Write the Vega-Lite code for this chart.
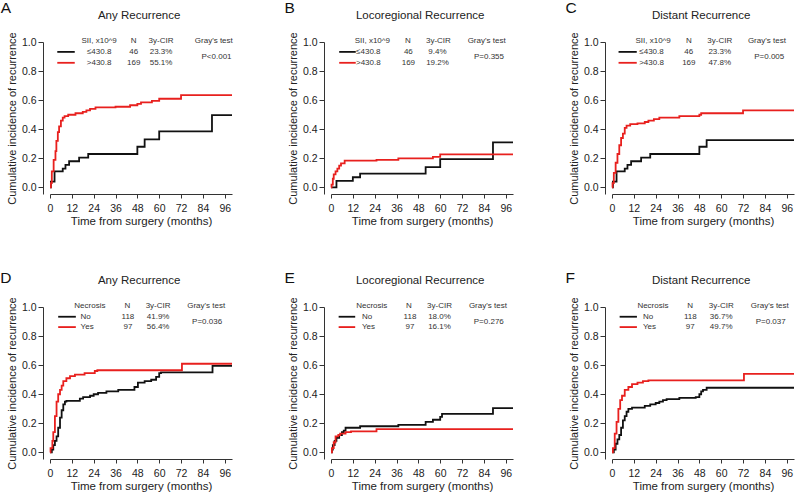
{
  "$schema": "https://vega.github.io/schema/vega-lite/v6.json",
  "padding": 0,
  "background": "white",
  "config": {
    "view": {"stroke": null},
    "font": "Liberation Sans",
    "axis": {"grid": false, "titleFontWeight": "normal", "domainColor": "#333", "tickColor": "#333", "labelColor": "#222", "titleColor": "#222",
      "labelFlush": false, "labelOverlap": false, "labelFont": "Liberation Sans", "titleFont": "Liberation Sans", "labelFontSize": 10.5},
    "axisX": {"tickSize": 4, "labelPadding": 5, "titlePadding": 2, "titleFontSize": 11.5},
    "axisY": {"offset": 7, "tickSize": 5, "labelPadding": 2, "titlePadding": 4, "titleFontSize": 11},
    "line": {"interpolate": "step-after", "strokeWidth": 1.8},
    "rule": {"strokeWidth": 1.8},
    "style": {
      "tbl": {"fontSize": 8, "color": "#333", "baseline": "middle", "font": "Liberation Sans"},
      "ttl": {"fontSize": 11.5, "color": "#222", "align": "center", "baseline": "middle", "font": "Liberation Sans"},
      "ltr": {"fontSize": 15.5, "color": "#111", "align": "left", "baseline": "top", "font": "Liberation Sans"}
    }
  },
  "data": {"values": [
    {"panel":"A","kind":"curve","grp":"≤430.8","month":0,"cir":0},
    {"panel":"A","kind":"curve","grp":"≤430.8","month":0.5,"cir":0.04},
    {"panel":"A","kind":"curve","grp":"≤430.8","month":2.5,"cir":0.11},
    {"panel":"A","kind":"curve","grp":"≤430.8","month":7,"cir":0.13},
    {"panel":"A","kind":"curve","grp":"≤430.8","month":8.5,"cir":0.155},
    {"panel":"A","kind":"curve","grp":"≤430.8","month":10.5,"cir":0.18},
    {"panel":"A","kind":"curve","grp":"≤430.8","month":16,"cir":0.205},
    {"panel":"A","kind":"curve","grp":"≤430.8","month":21,"cir":0.23},
    {"panel":"A","kind":"curve","grp":"≤430.8","month":48,"cir":0.28},
    {"panel":"A","kind":"curve","grp":"≤430.8","month":52,"cir":0.33},
    {"panel":"A","kind":"curve","grp":"≤430.8","month":60,"cir":0.385},
    {"panel":"A","kind":"curve","grp":"≤430.8","month":89,"cir":0.497},
    {"panel":"A","kind":"curve","grp":"≤430.8","month":100,"cir":0.497},
    {"panel":"A","kind":"curve","grp":">430.8","month":0,"cir":0},
    {"panel":"A","kind":"curve","grp":">430.8","month":0.5,"cir":0.03},
    {"panel":"A","kind":"curve","grp":">430.8","month":1,"cir":0.11},
    {"panel":"A","kind":"curve","grp":">430.8","month":2,"cir":0.19},
    {"panel":"A","kind":"curve","grp":">430.8","month":3,"cir":0.25},
    {"panel":"A","kind":"curve","grp":">430.8","month":3.5,"cir":0.32},
    {"panel":"A","kind":"curve","grp":">430.8","month":4.3,"cir":0.38},
    {"panel":"A","kind":"curve","grp":">430.8","month":5,"cir":0.42},
    {"panel":"A","kind":"curve","grp":">430.8","month":6,"cir":0.46},
    {"panel":"A","kind":"curve","grp":">430.8","month":7,"cir":0.48},
    {"panel":"A","kind":"curve","grp":">430.8","month":8,"cir":0.49},
    {"panel":"A","kind":"curve","grp":">430.8","month":10,"cir":0.5},
    {"panel":"A","kind":"curve","grp":">430.8","month":14,"cir":0.51},
    {"panel":"A","kind":"curve","grp":">430.8","month":18,"cir":0.52},
    {"panel":"A","kind":"curve","grp":">430.8","month":20,"cir":0.53},
    {"panel":"A","kind":"curve","grp":">430.8","month":22,"cir":0.54},
    {"panel":"A","kind":"curve","grp":">430.8","month":25,"cir":0.55},
    {"panel":"A","kind":"curve","grp":">430.8","month":36,"cir":0.555},
    {"panel":"A","kind":"curve","grp":">430.8","month":44,"cir":0.565},
    {"panel":"A","kind":"curve","grp":">430.8","month":48,"cir":0.575},
    {"panel":"A","kind":"curve","grp":">430.8","month":50,"cir":0.585},
    {"panel":"A","kind":"curve","grp":">430.8","month":56,"cir":0.595},
    {"panel":"A","kind":"curve","grp":">430.8","month":60,"cir":0.61},
    {"panel":"A","kind":"curve","grp":">430.8","month":72,"cir":0.635},
    {"panel":"A","kind":"curve","grp":">430.8","month":100,"cir":0.635},

    {"panel":"B","kind":"curve","grp":"≤430.8","month":0,"cir":0},
    {"panel":"B","kind":"curve","grp":"≤430.8","month":3,"cir":0.045},
    {"panel":"B","kind":"curve","grp":"≤430.8","month":12,"cir":0.07},
    {"panel":"B","kind":"curve","grp":"≤430.8","month":16,"cir":0.095},
    {"panel":"B","kind":"curve","grp":"≤430.8","month":52,"cir":0.14},
    {"panel":"B","kind":"curve","grp":"≤430.8","month":60,"cir":0.195},
    {"panel":"B","kind":"curve","grp":"≤430.8","month":89,"cir":0.31},
    {"panel":"B","kind":"curve","grp":"≤430.8","month":100,"cir":0.31},
    {"panel":"B","kind":"curve","grp":">430.8","month":0,"cir":0},
    {"panel":"B","kind":"curve","grp":">430.8","month":0.3,"cir":0.02},
    {"panel":"B","kind":"curve","grp":">430.8","month":1,"cir":0.06},
    {"panel":"B","kind":"curve","grp":">430.8","month":1.5,"cir":0.09},
    {"panel":"B","kind":"curve","grp":">430.8","month":2.5,"cir":0.11},
    {"panel":"B","kind":"curve","grp":">430.8","month":3.5,"cir":0.13},
    {"panel":"B","kind":"curve","grp":">430.8","month":4.5,"cir":0.15},
    {"panel":"B","kind":"curve","grp":">430.8","month":5.5,"cir":0.165},
    {"panel":"B","kind":"curve","grp":">430.8","month":7.5,"cir":0.185},
    {"panel":"B","kind":"curve","grp":">430.8","month":25,"cir":0.19},
    {"panel":"B","kind":"curve","grp":">430.8","month":37,"cir":0.2},
    {"panel":"B","kind":"curve","grp":">430.8","month":56,"cir":0.21},
    {"panel":"B","kind":"curve","grp":">430.8","month":60,"cir":0.228},
    {"panel":"B","kind":"curve","grp":">430.8","month":100,"cir":0.228},

    {"panel":"C","kind":"curve","grp":"≤430.8","month":0,"cir":0},
    {"panel":"C","kind":"curve","grp":"≤430.8","month":0.5,"cir":0.04},
    {"panel":"C","kind":"curve","grp":"≤430.8","month":2.5,"cir":0.11},
    {"panel":"C","kind":"curve","grp":"≤430.8","month":7,"cir":0.13},
    {"panel":"C","kind":"curve","grp":"≤430.8","month":8.5,"cir":0.155},
    {"panel":"C","kind":"curve","grp":"≤430.8","month":10.5,"cir":0.18},
    {"panel":"C","kind":"curve","grp":"≤430.8","month":16,"cir":0.205},
    {"panel":"C","kind":"curve","grp":"≤430.8","month":21,"cir":0.23},
    {"panel":"C","kind":"curve","grp":"≤430.8","month":48,"cir":0.28},
    {"panel":"C","kind":"curve","grp":"≤430.8","month":52,"cir":0.325},
    {"panel":"C","kind":"curve","grp":"≤430.8","month":100,"cir":0.325},
    {"panel":"C","kind":"curve","grp":">430.8","month":0,"cir":0},
    {"panel":"C","kind":"curve","grp":">430.8","month":0.3,"cir":0.03},
    {"panel":"C","kind":"curve","grp":">430.8","month":1,"cir":0.1},
    {"panel":"C","kind":"curve","grp":">430.8","month":2,"cir":0.17},
    {"panel":"C","kind":"curve","grp":">430.8","month":3,"cir":0.23},
    {"panel":"C","kind":"curve","grp":">430.8","month":4,"cir":0.29},
    {"panel":"C","kind":"curve","grp":">430.8","month":5,"cir":0.34},
    {"panel":"C","kind":"curve","grp":">430.8","month":6,"cir":0.37},
    {"panel":"C","kind":"curve","grp":">430.8","month":7,"cir":0.41},
    {"panel":"C","kind":"curve","grp":">430.8","month":8,"cir":0.425},
    {"panel":"C","kind":"curve","grp":">430.8","month":10,"cir":0.435},
    {"panel":"C","kind":"curve","grp":">430.8","month":14,"cir":0.44},
    {"panel":"C","kind":"curve","grp":">430.8","month":18,"cir":0.45},
    {"panel":"C","kind":"curve","grp":">430.8","month":20,"cir":0.46},
    {"panel":"C","kind":"curve","grp":">430.8","month":23,"cir":0.47},
    {"panel":"C","kind":"curve","grp":">430.8","month":26,"cir":0.48},
    {"panel":"C","kind":"curve","grp":">430.8","month":37,"cir":0.49},
    {"panel":"C","kind":"curve","grp":">430.8","month":48,"cir":0.5},
    {"panel":"C","kind":"curve","grp":">430.8","month":49,"cir":0.51},
    {"panel":"C","kind":"curve","grp":">430.8","month":72,"cir":0.53},
    {"panel":"C","kind":"curve","grp":">430.8","month":100,"cir":0.53},

    {"panel":"D","kind":"curve","grp":"No","month":0,"cir":0},
    {"panel":"D","kind":"curve","grp":"No","month":1,"cir":0.02},
    {"panel":"D","kind":"curve","grp":"No","month":1.8,"cir":0.05},
    {"panel":"D","kind":"curve","grp":"No","month":2.7,"cir":0.08},
    {"panel":"D","kind":"curve","grp":"No","month":3.6,"cir":0.11},
    {"panel":"D","kind":"curve","grp":"No","month":4.5,"cir":0.17},
    {"panel":"D","kind":"curve","grp":"No","month":5.5,"cir":0.24},
    {"panel":"D","kind":"curve","grp":"No","month":6.4,"cir":0.29},
    {"panel":"D","kind":"curve","grp":"No","month":7.3,"cir":0.33},
    {"panel":"D","kind":"curve","grp":"No","month":8.2,"cir":0.35},
    {"panel":"D","kind":"curve","grp":"No","month":9,"cir":0.355},
    {"panel":"D","kind":"curve","grp":"No","month":16.4,"cir":0.37},
    {"panel":"D","kind":"curve","grp":"No","month":18.2,"cir":0.38},
    {"panel":"D","kind":"curve","grp":"No","month":22,"cir":0.39},
    {"panel":"D","kind":"curve","grp":"No","month":24,"cir":0.4},
    {"panel":"D","kind":"curve","grp":"No","month":26.4,"cir":0.41},
    {"panel":"D","kind":"curve","grp":"No","month":31,"cir":0.42},
    {"panel":"D","kind":"curve","grp":"No","month":37.5,"cir":0.43},
    {"panel":"D","kind":"curve","grp":"No","month":46.4,"cir":0.45},
    {"panel":"D","kind":"curve","grp":"No","month":48.3,"cir":0.48},
    {"panel":"D","kind":"curve","grp":"No","month":52,"cir":0.49},
    {"panel":"D","kind":"curve","grp":"No","month":55.6,"cir":0.5},
    {"panel":"D","kind":"curve","grp":"No","month":58.3,"cir":0.52},
    {"panel":"D","kind":"curve","grp":"No","month":60,"cir":0.545},
    {"panel":"D","kind":"curve","grp":"No","month":61,"cir":0.55},
    {"panel":"D","kind":"curve","grp":"No","month":89.3,"cir":0.595},
    {"panel":"D","kind":"curve","grp":"No","month":100,"cir":0.595},
    {"panel":"D","kind":"curve","grp":"Yes","month":0,"cir":0},
    {"panel":"D","kind":"curve","grp":"Yes","month":0.3,"cir":0.03},
    {"panel":"D","kind":"curve","grp":"Yes","month":1.3,"cir":0.08},
    {"panel":"D","kind":"curve","grp":"Yes","month":1.8,"cir":0.14},
    {"panel":"D","kind":"curve","grp":"Yes","month":2.7,"cir":0.25},
    {"panel":"D","kind":"curve","grp":"Yes","month":3.6,"cir":0.35},
    {"panel":"D","kind":"curve","grp":"Yes","month":4.5,"cir":0.4},
    {"panel":"D","kind":"curve","grp":"Yes","month":5.5,"cir":0.43},
    {"panel":"D","kind":"curve","grp":"Yes","month":6.4,"cir":0.46},
    {"panel":"D","kind":"curve","grp":"Yes","month":7.3,"cir":0.49},
    {"panel":"D","kind":"curve","grp":"Yes","month":9,"cir":0.51},
    {"panel":"D","kind":"curve","grp":"Yes","month":11,"cir":0.525},
    {"panel":"D","kind":"curve","grp":"Yes","month":13.7,"cir":0.535},
    {"panel":"D","kind":"curve","grp":"Yes","month":19,"cir":0.545},
    {"panel":"D","kind":"curve","grp":"Yes","month":24.6,"cir":0.56},
    {"panel":"D","kind":"curve","grp":"Yes","month":26,"cir":0.565},
    {"panel":"D","kind":"curve","grp":"Yes","month":72.5,"cir":0.61},
    {"panel":"D","kind":"curve","grp":"Yes","month":100,"cir":0.61},

    {"panel":"E","kind":"curve","grp":"No","month":0,"cir":0},
    {"panel":"E","kind":"curve","grp":"No","month":0.5,"cir":0.02},
    {"panel":"E","kind":"curve","grp":"No","month":1,"cir":0.05},
    {"panel":"E","kind":"curve","grp":"No","month":2,"cir":0.08},
    {"panel":"E","kind":"curve","grp":"No","month":3,"cir":0.1},
    {"panel":"E","kind":"curve","grp":"No","month":4.5,"cir":0.12},
    {"panel":"E","kind":"curve","grp":"No","month":6,"cir":0.14},
    {"panel":"E","kind":"curve","grp":"No","month":7,"cir":0.15},
    {"panel":"E","kind":"curve","grp":"No","month":8,"cir":0.17},
    {"panel":"E","kind":"curve","grp":"No","month":16,"cir":0.18},
    {"panel":"E","kind":"curve","grp":"No","month":37,"cir":0.19},
    {"panel":"E","kind":"curve","grp":"No","month":52,"cir":0.21},
    {"panel":"E","kind":"curve","grp":"No","month":56,"cir":0.225},
    {"panel":"E","kind":"curve","grp":"No","month":60,"cir":0.245},
    {"panel":"E","kind":"curve","grp":"No","month":61,"cir":0.265},
    {"panel":"E","kind":"curve","grp":"No","month":89,"cir":0.305},
    {"panel":"E","kind":"curve","grp":"No","month":100,"cir":0.305},
    {"panel":"E","kind":"curve","grp":"Yes","month":0,"cir":0},
    {"panel":"E","kind":"curve","grp":"Yes","month":0.5,"cir":0.03},
    {"panel":"E","kind":"curve","grp":"Yes","month":1.5,"cir":0.07},
    {"panel":"E","kind":"curve","grp":"Yes","month":2.5,"cir":0.11},
    {"panel":"E","kind":"curve","grp":"Yes","month":4,"cir":0.12},
    {"panel":"E","kind":"curve","grp":"Yes","month":5,"cir":0.13},
    {"panel":"E","kind":"curve","grp":"Yes","month":8,"cir":0.14},
    {"panel":"E","kind":"curve","grp":"Yes","month":11,"cir":0.145},
    {"panel":"E","kind":"curve","grp":"Yes","month":25,"cir":0.16},
    {"panel":"E","kind":"curve","grp":"Yes","month":100,"cir":0.16},

    {"panel":"F","kind":"curve","grp":"No","month":0,"cir":0},
    {"panel":"F","kind":"curve","grp":"No","month":1,"cir":0.02},
    {"panel":"F","kind":"curve","grp":"No","month":2,"cir":0.06},
    {"panel":"F","kind":"curve","grp":"No","month":3,"cir":0.09},
    {"panel":"F","kind":"curve","grp":"No","month":4,"cir":0.12},
    {"panel":"F","kind":"curve","grp":"No","month":5,"cir":0.17},
    {"panel":"F","kind":"curve","grp":"No","month":6,"cir":0.22},
    {"panel":"F","kind":"curve","grp":"No","month":7,"cir":0.25},
    {"panel":"F","kind":"curve","grp":"No","month":8,"cir":0.28},
    {"panel":"F","kind":"curve","grp":"No","month":9,"cir":0.3},
    {"panel":"F","kind":"curve","grp":"No","month":11,"cir":0.308},
    {"panel":"F","kind":"curve","grp":"No","month":18,"cir":0.32},
    {"panel":"F","kind":"curve","grp":"No","month":21,"cir":0.33},
    {"panel":"F","kind":"curve","grp":"No","month":24,"cir":0.34},
    {"panel":"F","kind":"curve","grp":"No","month":26,"cir":0.35},
    {"panel":"F","kind":"curve","grp":"No","month":28,"cir":0.36},
    {"panel":"F","kind":"curve","grp":"No","month":30,"cir":0.367},
    {"panel":"F","kind":"curve","grp":"No","month":37,"cir":0.375},
    {"panel":"F","kind":"curve","grp":"No","month":46,"cir":0.38},
    {"panel":"F","kind":"curve","grp":"No","month":48,"cir":0.4},
    {"panel":"F","kind":"curve","grp":"No","month":49,"cir":0.42},
    {"panel":"F","kind":"curve","grp":"No","month":50,"cir":0.43},
    {"panel":"F","kind":"curve","grp":"No","month":52,"cir":0.445},
    {"panel":"F","kind":"curve","grp":"No","month":100,"cir":0.445},
    {"panel":"F","kind":"curve","grp":"Yes","month":0,"cir":0},
    {"panel":"F","kind":"curve","grp":"Yes","month":0.5,"cir":0.03},
    {"panel":"F","kind":"curve","grp":"Yes","month":1.5,"cir":0.13},
    {"panel":"F","kind":"curve","grp":"Yes","month":2.5,"cir":0.21},
    {"panel":"F","kind":"curve","grp":"Yes","month":3.5,"cir":0.3},
    {"panel":"F","kind":"curve","grp":"Yes","month":4.5,"cir":0.36},
    {"panel":"F","kind":"curve","grp":"Yes","month":5.5,"cir":0.39},
    {"panel":"F","kind":"curve","grp":"Yes","month":7,"cir":0.43},
    {"panel":"F","kind":"curve","grp":"Yes","month":9,"cir":0.45},
    {"panel":"F","kind":"curve","grp":"Yes","month":11,"cir":0.47},
    {"panel":"F","kind":"curve","grp":"Yes","month":14,"cir":0.48},
    {"panel":"F","kind":"curve","grp":"Yes","month":17,"cir":0.49},
    {"panel":"F","kind":"curve","grp":"Yes","month":20,"cir":0.495},
    {"panel":"F","kind":"curve","grp":"Yes","month":72.5,"cir":0.54},
    {"panel":"F","kind":"curve","grp":"Yes","month":100,"cir":0.54},

    {"panel":"A","kind":"letter","label":"A","month":-27,"cir":1.285},
    {"panel":"B","kind":"letter","label":"B","month":-25.6,"cir":1.285},
    {"panel":"C","kind":"letter","label":"C","month":-25.6,"cir":1.285},
    {"panel":"D","kind":"letter","label":"D","month":-27.3,"cir":1.245},
    {"panel":"E","kind":"letter","label":"E","month":-25.6,"cir":1.245},
    {"panel":"F","kind":"letter","label":"F","month":-25.6,"cir":1.245},
    {"panel":"A","kind":"title","label":"Any Recurrence","month":49,"cir":1.182},
    {"panel":"B","kind":"title","label":"Locoregional Recurrence","month":49,"cir":1.182},
    {"panel":"C","kind":"title","label":"Distant Recurrence","month":49,"cir":1.182},
    {"panel":"D","kind":"title","label":"Any Recurrence","month":49,"cir":1.182},
    {"panel":"E","kind":"title","label":"Locoregional Recurrence","month":49,"cir":1.182},
    {"panel":"F","kind":"title","label":"Distant Recurrence","month":49,"cir":1.182},

    {"panel":"A","kind":"c","label":"SII, x10^9","month":27,"cir":1.005},
    {"panel":"A","kind":"c","label":"≤430.8","month":27,"cir":0.932},
    {"panel":"A","kind":"c","label":">430.8","month":27,"cir":0.857},
    {"panel":"A","kind":"c","label":"N","month":46,"cir":1.005},
    {"panel":"A","kind":"c","label":"46","month":46,"cir":0.932},
    {"panel":"A","kind":"c","label":"169","month":46,"cir":0.857},
    {"panel":"A","kind":"c","label":"3y-CIR","month":61,"cir":1.005},
    {"panel":"A","kind":"c","label":"23.3%","month":61,"cir":0.932},
    {"panel":"A","kind":"c","label":"55.1%","month":61,"cir":0.857},
    {"panel":"A","kind":"c","label":"Gray's test","month":90,"cir":1.005},
    {"panel":"A","kind":"c","label":"P<0.001","month":91.5,"cir":0.9},
    {"panel":"A","kind":"key","grp":"≤430.8","month":4,"month2":13.6,"cir":0.932},
    {"panel":"A","kind":"key","grp":">430.8","month":4,"month2":13.6,"cir":0.857},

    {"panel":"B","kind":"c","label":"SII, x10^9","month":22.7,"cir":1.005},
    {"panel":"B","kind":"c","label":"≤430.8","month":20.5,"cir":0.932},
    {"panel":"B","kind":"c","label":">430.8","month":20.5,"cir":0.857},
    {"panel":"B","kind":"c","label":"N","month":42.3,"cir":1.005},
    {"panel":"B","kind":"c","label":"46","month":42.5,"cir":0.932},
    {"panel":"B","kind":"c","label":"169","month":42.5,"cir":0.857},
    {"panel":"B","kind":"c","label":"3y-CIR","month":59,"cir":1.005},
    {"panel":"B","kind":"c","label":"9.4%","month":58.5,"cir":0.932},
    {"panel":"B","kind":"c","label":"19.2%","month":58.5,"cir":0.857},
    {"panel":"B","kind":"c","label":"Gray's test","month":85.5,"cir":1.005},
    {"panel":"B","kind":"c","label":"P=0.355","month":86.8,"cir":0.9},
    {"panel":"B","kind":"key","grp":"≤430.8","month":4.5,"month2":13.6,"cir":0.932},
    {"panel":"B","kind":"key","grp":">430.8","month":4.5,"month2":13.6,"cir":0.857},

    {"panel":"C","kind":"c","label":"SII, x10^9","month":22.6,"cir":1.005},
    {"panel":"C","kind":"c","label":"≤430.8","month":21.7,"cir":0.932},
    {"panel":"C","kind":"c","label":">430.8","month":21.7,"cir":0.857},
    {"panel":"C","kind":"c","label":"N","month":42.2,"cir":1.005},
    {"panel":"C","kind":"c","label":"46","month":42.2,"cir":0.932},
    {"panel":"C","kind":"c","label":"169","month":42.2,"cir":0.857},
    {"panel":"C","kind":"c","label":"3y-CIR","month":59.2,"cir":1.005},
    {"panel":"C","kind":"c","label":"23.3%","month":59.2,"cir":0.932},
    {"panel":"C","kind":"c","label":"47.8%","month":59.2,"cir":0.857},
    {"panel":"C","kind":"c","label":"Gray's test","month":85.1,"cir":1.005},
    {"panel":"C","kind":"c","label":"P=0.005","month":86.4,"cir":0.9},
    {"panel":"C","kind":"key","grp":"≤430.8","month":3.6,"month2":13.6,"cir":0.932},
    {"panel":"C","kind":"key","grp":">430.8","month":3.6,"month2":13.6,"cir":0.857},

    {"panel":"D","kind":"c","label":"Necrosis","month":21.9,"cir":1.005},
    {"panel":"D","kind":"l","label":"No","month":16.8,"cir":0.933},
    {"panel":"D","kind":"l","label":"Yes","month":16.8,"cir":0.862},
    {"panel":"D","kind":"c","label":"N","month":42.5,"cir":1.005},
    {"panel":"D","kind":"c","label":"118","month":42.8,"cir":0.933},
    {"panel":"D","kind":"c","label":"97","month":42.8,"cir":0.862},
    {"panel":"D","kind":"c","label":"3y-CIR","month":59.4,"cir":1.005},
    {"panel":"D","kind":"c","label":"41.9%","month":59.4,"cir":0.933},
    {"panel":"D","kind":"c","label":"56.4%","month":59.4,"cir":0.862},
    {"panel":"D","kind":"c","label":"Gray's test","month":85.8,"cir":1.005},
    {"panel":"D","kind":"c","label":"P=0.036","month":86.3,"cir":0.895},
    {"panel":"D","kind":"key","grp":"No","month":4.5,"month2":14.2,"cir":0.933},
    {"panel":"D","kind":"key","grp":"Yes","month":4.5,"month2":14.2,"cir":0.862},

    {"panel":"E","kind":"c","label":"Necrosis","month":22.4,"cir":1.005},
    {"panel":"E","kind":"l","label":"No","month":17,"cir":0.933},
    {"panel":"E","kind":"l","label":"Yes","month":17,"cir":0.862},
    {"panel":"E","kind":"c","label":"N","month":42.8,"cir":1.005},
    {"panel":"E","kind":"c","label":"118","month":43.4,"cir":0.933},
    {"panel":"E","kind":"c","label":"97","month":43.4,"cir":0.862},
    {"panel":"E","kind":"c","label":"3y-CIR","month":59.6,"cir":1.005},
    {"panel":"E","kind":"c","label":"18.0%","month":59.6,"cir":0.933},
    {"panel":"E","kind":"c","label":"16.1%","month":59.6,"cir":0.862},
    {"panel":"E","kind":"c","label":"Gray's test","month":86.2,"cir":1.005},
    {"panel":"E","kind":"c","label":"P=0.276","month":86.7,"cir":0.895},
    {"panel":"E","kind":"key","grp":"No","month":4.2,"month2":13.3,"cir":0.933},
    {"panel":"E","kind":"key","grp":"Yes","month":4.2,"month2":13.3,"cir":0.862},

    {"panel":"F","kind":"c","label":"Necrosis","month":22.5,"cir":1.005},
    {"panel":"F","kind":"l","label":"No","month":17,"cir":0.933},
    {"panel":"F","kind":"l","label":"Yes","month":17,"cir":0.862},
    {"panel":"F","kind":"c","label":"N","month":43,"cir":1.005},
    {"panel":"F","kind":"c","label":"118","month":43,"cir":0.933},
    {"panel":"F","kind":"c","label":"97","month":43,"cir":0.862},
    {"panel":"F","kind":"c","label":"3y-CIR","month":60,"cir":1.005},
    {"panel":"F","kind":"c","label":"36.7%","month":60,"cir":0.933},
    {"panel":"F","kind":"c","label":"49.7%","month":60,"cir":0.862},
    {"panel":"F","kind":"c","label":"Gray's test","month":86.7,"cir":1.005},
    {"panel":"F","kind":"c","label":"P=0.037","month":87.2,"cir":0.895},
    {"panel":"F","kind":"key","grp":"No","month":4.2,"month2":13.7,"cir":0.933},
    {"panel":"F","kind":"key","grp":"Yes","month":4.2,"month2":13.7,"cir":0.862}
  ]},
  "columns": 3,
  "spacing": {"row": 44, "column": 48},
  "concat": [
    {"transform": [{"filter": "datum.panel === 'A'"}], "width": 182, "height": 152,
     "encoding": {
       "x": {"field": "month", "type": "quantitative", "scale": {"domain": [0, 100], "nice": false, "zero": false}, "axis": {"values": [0,12,24,36,48,60,72,84,96], "title": "Time from surgery (months)"}},
       "y": {"field": "cir", "type": "quantitative", "scale": {"domain": [-0.045, 1.0], "nice": false, "zero": false}, "axis": {"values": [0,0.2,0.4,0.6,0.8,1.0], "format": ".1f", "title": "Cumulative incidence of recurrence"}}},
     "layer": [
       {"transform": [{"filter": "datum.kind === 'curve'"}], "mark": "line", "encoding": {"color": {"field": "grp", "type": "nominal", "legend": null, "scale": {"domain": ["≤430.8", ">430.8", "No", "Yes"], "range": ["#111111", "#e8201e", "#111111", "#e8201e"]}}}},
       {"transform": [{"filter": "datum.kind === 'key'"}], "mark": "rule", "encoding": {"x2": {"field": "month2"}, "color": {"field": "grp", "type": "nominal", "legend": null}}},
       {"transform": [{"filter": "datum.kind === 'c'"}], "mark": {"type": "text", "style": "tbl", "align": "center"}, "encoding": {"text": {"field": "label"}}},
       {"transform": [{"filter": "datum.kind === 'title'"}], "mark": {"type": "text", "style": "ttl"}, "encoding": {"text": {"field": "label"}}},
       {"transform": [{"filter": "datum.kind === 'letter'"}], "mark": {"type": "text", "style": "ltr"}, "encoding": {"text": {"field": "label"}}}
     ]},
    {"transform": [{"filter": "datum.panel === 'B'"}], "width": 182, "height": 152,
     "encoding": {
       "x": {"field": "month", "type": "quantitative", "scale": {"domain": [0, 100], "nice": false, "zero": false}, "axis": {"values": [0,12,24,36,48,60,72,84,96], "title": "Time from surgery (months)"}},
       "y": {"field": "cir", "type": "quantitative", "scale": {"domain": [-0.045, 1.0], "nice": false, "zero": false}, "axis": {"values": [0,0.2,0.4,0.6,0.8,1.0], "format": ".1f", "title": "Cumulative incidence of recurrence"}}},
     "layer": [
       {"transform": [{"filter": "datum.kind === 'curve'"}], "mark": "line", "encoding": {"color": {"field": "grp", "type": "nominal", "legend": null, "scale": {"domain": ["≤430.8", ">430.8", "No", "Yes"], "range": ["#111111", "#e8201e", "#111111", "#e8201e"]}}}},
       {"transform": [{"filter": "datum.kind === 'key'"}], "mark": "rule", "encoding": {"x2": {"field": "month2"}, "color": {"field": "grp", "type": "nominal", "legend": null}}},
       {"transform": [{"filter": "datum.kind === 'c'"}], "mark": {"type": "text", "style": "tbl", "align": "center"}, "encoding": {"text": {"field": "label"}}},
       {"transform": [{"filter": "datum.kind === 'title'"}], "mark": {"type": "text", "style": "ttl"}, "encoding": {"text": {"field": "label"}}},
       {"transform": [{"filter": "datum.kind === 'letter'"}], "mark": {"type": "text", "style": "ltr"}, "encoding": {"text": {"field": "label"}}}
     ]},
    {"transform": [{"filter": "datum.panel === 'C'"}], "width": 182, "height": 152,
     "encoding": {
       "x": {"field": "month", "type": "quantitative", "scale": {"domain": [0, 100], "nice": false, "zero": false}, "axis": {"values": [0,12,24,36,48,60,72,84,96], "title": "Time from surgery (months)"}},
       "y": {"field": "cir", "type": "quantitative", "scale": {"domain": [-0.045, 1.0], "nice": false, "zero": false}, "axis": {"values": [0,0.2,0.4,0.6,0.8,1.0], "format": ".1f", "title": "Cumulative incidence of recurrence"}}},
     "layer": [
       {"transform": [{"filter": "datum.kind === 'curve'"}], "mark": "line", "encoding": {"color": {"field": "grp", "type": "nominal", "legend": null, "scale": {"domain": ["≤430.8", ">430.8", "No", "Yes"], "range": ["#111111", "#e8201e", "#111111", "#e8201e"]}}}},
       {"transform": [{"filter": "datum.kind === 'key'"}], "mark": "rule", "encoding": {"x2": {"field": "month2"}, "color": {"field": "grp", "type": "nominal", "legend": null}}},
       {"transform": [{"filter": "datum.kind === 'c'"}], "mark": {"type": "text", "style": "tbl", "align": "center"}, "encoding": {"text": {"field": "label"}}},
       {"transform": [{"filter": "datum.kind === 'title'"}], "mark": {"type": "text", "style": "ttl"}, "encoding": {"text": {"field": "label"}}},
       {"transform": [{"filter": "datum.kind === 'letter'"}], "mark": {"type": "text", "style": "ltr"}, "encoding": {"text": {"field": "label"}}}
     ]},
    {"transform": [{"filter": "datum.panel === 'D'"}], "width": 182, "height": 152,
     "encoding": {
       "x": {"field": "month", "type": "quantitative", "scale": {"domain": [0, 100], "nice": false, "zero": false}, "axis": {"values": [0,12,24,36,48,60,72,84,96], "title": "Time from surgery (months)"}},
       "y": {"field": "cir", "type": "quantitative", "scale": {"domain": [-0.045, 1.0], "nice": false, "zero": false}, "axis": {"values": [0,0.2,0.4,0.6,0.8,1.0], "format": ".1f", "title": "Cumulative incidence of recurrence"}}},
     "layer": [
       {"transform": [{"filter": "datum.kind === 'curve'"}], "mark": "line", "encoding": {"color": {"field": "grp", "type": "nominal", "legend": null, "scale": {"domain": ["≤430.8", ">430.8", "No", "Yes"], "range": ["#111111", "#e8201e", "#111111", "#e8201e"]}}}},
       {"transform": [{"filter": "datum.kind === 'key'"}], "mark": "rule", "encoding": {"x2": {"field": "month2"}, "color": {"field": "grp", "type": "nominal", "legend": null}}},
       {"transform": [{"filter": "datum.kind === 'c'"}], "mark": {"type": "text", "style": "tbl", "align": "center"}, "encoding": {"text": {"field": "label"}}},
       {"transform": [{"filter": "datum.kind === 'l'"}], "mark": {"type": "text", "style": "tbl", "align": "left"}, "encoding": {"text": {"field": "label"}}},
       {"transform": [{"filter": "datum.kind === 'title'"}], "mark": {"type": "text", "style": "ttl"}, "encoding": {"text": {"field": "label"}}},
       {"transform": [{"filter": "datum.kind === 'letter'"}], "mark": {"type": "text", "style": "ltr"}, "encoding": {"text": {"field": "label"}}}
     ]},
    {"transform": [{"filter": "datum.panel === 'E'"}], "width": 182, "height": 152,
     "encoding": {
       "x": {"field": "month", "type": "quantitative", "scale": {"domain": [0, 100], "nice": false, "zero": false}, "axis": {"values": [0,12,24,36,48,60,72,84,96], "title": "Time from surgery (months)"}},
       "y": {"field": "cir", "type": "quantitative", "scale": {"domain": [-0.045, 1.0], "nice": false, "zero": false}, "axis": {"values": [0,0.2,0.4,0.6,0.8,1.0], "format": ".1f", "title": "Cumulative incidence of recurrence"}}},
     "layer": [
       {"transform": [{"filter": "datum.kind === 'curve'"}], "mark": "line", "encoding": {"color": {"field": "grp", "type": "nominal", "legend": null, "scale": {"domain": ["≤430.8", ">430.8", "No", "Yes"], "range": ["#111111", "#e8201e", "#111111", "#e8201e"]}}}},
       {"transform": [{"filter": "datum.kind === 'key'"}], "mark": "rule", "encoding": {"x2": {"field": "month2"}, "color": {"field": "grp", "type": "nominal", "legend": null}}},
       {"transform": [{"filter": "datum.kind === 'c'"}], "mark": {"type": "text", "style": "tbl", "align": "center"}, "encoding": {"text": {"field": "label"}}},
       {"transform": [{"filter": "datum.kind === 'l'"}], "mark": {"type": "text", "style": "tbl", "align": "left"}, "encoding": {"text": {"field": "label"}}},
       {"transform": [{"filter": "datum.kind === 'title'"}], "mark": {"type": "text", "style": "ttl"}, "encoding": {"text": {"field": "label"}}},
       {"transform": [{"filter": "datum.kind === 'letter'"}], "mark": {"type": "text", "style": "ltr"}, "encoding": {"text": {"field": "label"}}}
     ]},
    {"transform": [{"filter": "datum.panel === 'F'"}], "width": 182, "height": 152,
     "encoding": {
       "x": {"field": "month", "type": "quantitative", "scale": {"domain": [0, 100], "nice": false, "zero": false}, "axis": {"values": [0,12,24,36,48,60,72,84,96], "title": "Time from surgery (months)"}},
       "y": {"field": "cir", "type": "quantitative", "scale": {"domain": [-0.045, 1.0], "nice": false, "zero": false}, "axis": {"values": [0,0.2,0.4,0.6,0.8,1.0], "format": ".1f", "title": "Cumulative incidence of recurrence"}}},
     "layer": [
       {"transform": [{"filter": "datum.kind === 'curve'"}], "mark": "line", "encoding": {"color": {"field": "grp", "type": "nominal", "legend": null, "scale": {"domain": ["≤430.8", ">430.8", "No", "Yes"], "range": ["#111111", "#e8201e", "#111111", "#e8201e"]}}}},
       {"transform": [{"filter": "datum.kind === 'key'"}], "mark": "rule", "encoding": {"x2": {"field": "month2"}, "color": {"field": "grp", "type": "nominal", "legend": null}}},
       {"transform": [{"filter": "datum.kind === 'c'"}], "mark": {"type": "text", "style": "tbl", "align": "center"}, "encoding": {"text": {"field": "label"}}},
       {"transform": [{"filter": "datum.kind === 'l'"}], "mark": {"type": "text", "style": "tbl", "align": "left"}, "encoding": {"text": {"field": "label"}}},
       {"transform": [{"filter": "datum.kind === 'title'"}], "mark": {"type": "text", "style": "ttl"}, "encoding": {"text": {"field": "label"}}},
       {"transform": [{"filter": "datum.kind === 'letter'"}], "mark": {"type": "text", "style": "ltr"}, "encoding": {"text": {"field": "label"}}}
     ]}
  ]
}
